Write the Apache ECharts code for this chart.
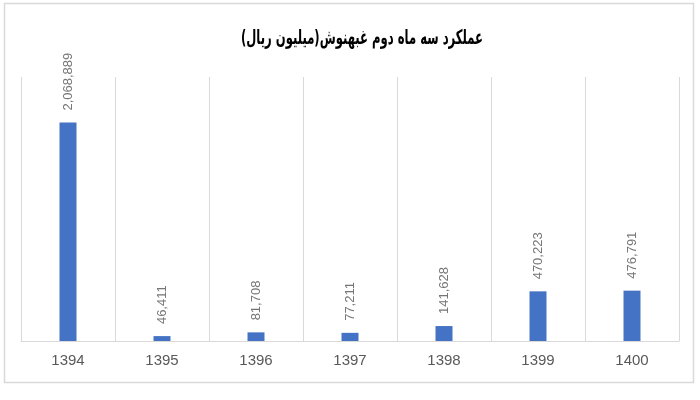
<!DOCTYPE html>
<html>
<head>
<meta charset="utf-8">
<script src="https://cdn.jsdelivr.net/npm/echarts@6/dist/echarts.min.js"></script>
<style>
  html, body { margin: 0; padding: 0; background: #fff; }
  #chart { width: 700px; height: 400px; }
</style>
</head>
<body>
<div id="chart"></div>
<script>
var years = ["1394", "1395", "1396", "1397", "1398", "1399", "1400"];
var values = [2068889, 46411, 81708, 77211, 141628, 470223, 476791];
var titleText = "عملکرد سه ماه دوم غبهنوش(میلیون ریال)";

var chart = echarts.init(document.getElementById("chart"));

var option = {
  animation: false,
  // title drawn as graphic text so it can be squeezed like the condensed original font
  graphic: [
    {
      type: "rect",
      shape: { x: 4.5, y: 3.5, width: 689, height: 379 },
      style: { fill: "none", stroke: "#d9d9d9", lineWidth: 1.5 },
      silent: true,
      z: -1
    },
    {
      type: "text",
      x: 362,
      y: 39,
      scaleX: 0.58,
      style: {
        text: titleText,
        fontFamily: "DejaVu Sans",
        fontWeight: "bold",
        fontSize: 20,
        fill: "#000",
        align: "center",
        verticalAlign: "middle"
      }
    }
  ],
  grid: {
    left: 21,
    right: 21,
    top: 77,
    bottom: 59,
    containLabel: false
  },
  xAxis: {
    type: "category",
    data: years,
    axisLine: { lineStyle: { color: "#d9d9d9", width: 1 } },
    axisTick: { show: false },
    splitLine: {
      show: true,
      lineStyle: { color: "#d9d9d9", width: 1 }
    },
    axisLabel: {
      color: "#595959",
      fontFamily: "Liberation Sans Narrow, Liberation Sans, sans-serif",
      fontSize: 15,
      margin: 12
    }
  },
  yAxis: {
    type: "value",
    min: 0,
    max: 2500000,
    show: false,
    splitLine: { show: false }
  },
  series: [
    {
      name: "عملکرد",
      type: "bar",
      data: values,
      barWidth: 17,
      itemStyle: { color: "#4472c4" },
      label: {
        show: true,
        position: "top",
        rotate: 90,
        align: "left",
        verticalAlign: "middle",
        distance: 12,
        color: "#767676",
        fontFamily: "Liberation Sans, sans-serif",
        fontSize: 13,
        formatter: function(p) {
          return p.value.toLocaleString("en-US");
        }
      }
    }
  ]
};

chart.setOption(option);
</script>
</body>
</html>
